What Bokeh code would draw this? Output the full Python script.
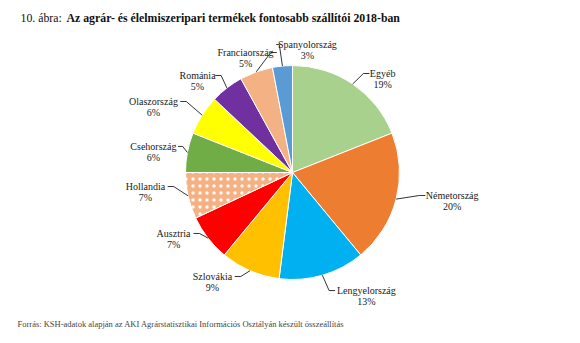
import math
from bokeh.plotting import figure
from bokeh.models import ColumnDataSource, Range1d
from bokeh.core.properties import value
from bokeh.embed import file_html
from bokeh.resources import INLINE

# ---- data ----
countries = ["Egyéb", "Németország", "Lengyelország", "Szlovákia", "Ausztria", "Hollandia",
             "Csehország", "Olaszország", "Románia", "Franciaország", "Spanyolország"]
shares = [19, 20, 13, 9, 7, 7, 6, 6, 5, 5, 3]
title_prefix = "10. ábra:"
title_main = "Az agrár- és élelmiszeripari termékek fontosabb szállítói 2018-ban"
source_note = "Forrás: KSH-adatok alapján az AKI Agrárstatisztikai Információs Osztályán készült összeállítás"

# ---- styles / layout ----
colors = ["#A9D18E", "#ED7D31", "#00B0F0", "#FFC000", "#FF0000", "#F4B183",
          "#70AD47", "#FFFF00", "#7030A0", "#F4B183", "#5B9BD5"]
patterns = [" ", " ", " ", " ", " ", ".", " ", " ", " ", " ", " "]
# label offsets (px) relative to each slice's outer mid-point
label_dx = [30, 56, 44, -37.5, -34.4, -42.6, -34, -48.7, -29.4, -10.7, 25]
label_dy = [10.5, 3.6, -15.3, -5.8, 4.6, 9.3, 6, 13.7, 12.5, 19.3, 21.4]

W, H = 580, 343
CX, CY, R = 292, 171, 107
FONT = "Liberation Serif"
LABEL_SIZE = 10
CHAR_W = 4.5

total = sum(shares)
starts, ends, mids = [], [], []
cum = 0
for s in shares:
    a_end = math.pi / 2 - 2 * math.pi * cum / total
    cum += s
    a_start = math.pi / 2 - 2 * math.pi * cum / total
    starts.append(a_start)
    ends.append(a_end)
    mids.append((a_start + a_end) / 2)

src = ColumnDataSource(dict(start=starts, end=ends, color=colors, pat=patterns))

p = figure(width=W, height=H, x_range=Range1d(0, W), y_range=Range1d(0, H),
           x_axis_type=None, y_axis_type=None, toolbar_location=None,
           output_backend="svg", min_border=0)
p.grid.visible = False
p.outline_line_color = None
p.background_fill_color = "white"
p.border_fill_color = "white"

p.wedge(x=CX, y=CY, radius=R, start_angle="start", end_angle="end", source=src,
        fill_color="color", line_color="white", line_width=1,
        hatch_pattern="pat", hatch_color="white", hatch_scale=7, hatch_weight=0.5,
        hatch_alpha=0.9)

# labels and leader lines
lx, ly_name, ly_pct, names, pcts = [], [], [], [], []
xs, ys = [], []
for name, s, th, dx, dy in zip(countries, shares, mids, label_dx, label_dy):
    ex, ey = CX + R * math.cos(th), CY + R * math.sin(th)
    nx, ny = ex + dx, ey + dy
    lx.append(nx)
    ly_name.append(ny)
    ly_pct.append(ny - 11)
    names.append(name)
    pcts.append(f"{s}%")
    w = len(name) * CHAR_W
    side = nx - w / 2 - 2 if dx > 0 else nx + w / 2 + 2
    direction = 1 if ex > side else -1
    elbow = side + direction * min(6, abs(ex - side) / 2)
    xs.append([side, elbow, ex])
    ys.append([ny, ny, ey])

p.multi_line(xs=xs, ys=ys, line_color="black", line_width=0.8)
p.text(x=lx, y=ly_name, text=names, text_font=value(FONT), text_font_size=f"{LABEL_SIZE}px",
       text_align="center", text_baseline="middle", text_color="#1a1a1a")
p.text(x=lx, y=ly_pct, text=pcts, text_font=value(FONT), text_font_size=f"{LABEL_SIZE}px",
       text_align="center", text_baseline="middle", text_color="#1a1a1a")

# title
p.text(x=[20], y=[H - 17], text=[title_prefix], text_font=value(FONT), text_font_size="11.8px",
       text_align="left", text_baseline="middle", text_color="#111111")
p.text(x=[66], y=[H - 17], text=[title_main], text_font=value(FONT), text_font_size="11.8px",
       text_font_style="bold", text_align="left", text_baseline="middle", text_color="#111111")
# footnote
p.text(x=[17], y=[H - 323], text=[source_note], text_font=value(FONT), text_font_size="8.5px",
       text_align="left", text_baseline="middle", text_color="#444444")

open("out.html", "w").write(file_html(p, INLINE))
